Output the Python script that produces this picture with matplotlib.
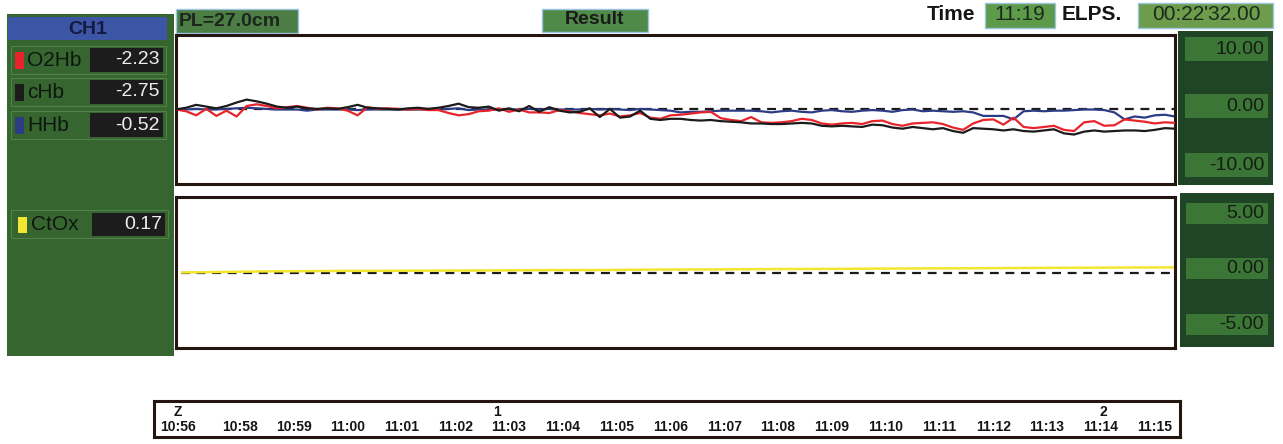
import numpy as np
import matplotlib
matplotlib.use("Agg")
import matplotlib.pyplot as plt
from matplotlib.patches import Rectangle

# ---------------- data ----------------
o2hb = [0, -0.3, -1.0, 0.1, -1.1, -0.2, -1.2, 0.6, 0.9, 0.6,
        0.2, 0.4, 0.6, 0.3, 0.0, 0.3, 0.2, -0.2, -1.0, 0.4,
        0.1, 0.2, 0.1, 0.0, 0.1, -0.1, -0.1, -0.6, -1.0, -0.8,
        -0.3, -0.2, 0.2, -0.4, 0.0, -0.5, -0.5, -0.6, -0.1, -0.3,
        -0.6, -0.8, -1.0, -0.7, -1.2, -1.0, -0.6, -1.4, -1.6, -1.0,
        -0.9, -0.7, -0.5, -0.4, -1.5, -1.8, -2.0, -1.3, -2.2, -2.3,
        -2.2, -2.0, -1.6, -1.8, -2.4, -2.6, -2.4, -2.3, -2.5, -2.0,
        -1.9, -2.5, -2.8, -2.4, -2.3, -2.2, -2.5, -3.1, -3.5, -2.4,
        -1.8, -1.7, -2.6, -1.4, -3.0, -3.2, -3.0, -2.8, -3.5, -3.7,
        -2.2, -2.0, -2.8, -2.7, -1.7, -1.9, -2.1, -2.4, -2.2, -2.3]
chb = [0, 0.3, 0.8, 0.5, 0.2, 0.6, 1.2, 1.7, 1.4, 1.0,
       0.5, 0.3, 0.5, 0.2, 0.1, 0.2, 0.1, 0.4, 0.8, 0.3,
       0.2, 0.1, 0.0, 0.2, 0.3, 0.1, 0.3, 0.6, 1.0, 0.4,
       0.3, 0.5, -0.2, 0.2, -0.3, 0.6, -0.4, 0.4, -0.2, -0.5,
       -0.4, 0.2, -1.3, 0.1, -1.4, -1.2, -0.2, -1.6, -1.8, -1.6,
       -1.6, -1.8, -1.9, -1.8, -2.0, -2.1, -2.2, -2.4, -2.4, -2.5,
       -2.5, -2.4, -2.3, -2.4, -2.8, -2.9, -2.8, -2.9, -3.0, -2.6,
       -2.7, -3.1, -3.3, -3.0, -3.2, -3.4, -3.2, -3.7, -4.0, -3.2,
       -3.3, -3.4, -3.6, -3.4, -3.7, -3.8, -3.6, -3.4, -4.1, -4.3,
       -3.8, -3.6, -3.8, -3.7, -3.6, -3.6, -3.7, -3.5, -3.2, -3.3]
hhb = [0, 0, 0.1, 0, 0, 0.1, 0.2, 0.3, 0.2, 0.1,
       0, 0, 0, -0.2, 0, 0, 0, 0, -0.1, 0,
       0, 0, 0, 0, 0, 0, 0, 0.1, 0.2, -0.1,
       0, 0, 0, 0, 0, 0.1, 0, 0.1, 0, 0,
       0.0, 0.1, 0.0, 0.1, 0.0, -0.1, 0.1, 0.0, -0.1, -0.2,
       -0.5, -0.4, -0.4, -0.3, -0.2, -0.2, -0.2, -0.2, -0.3, -0.5,
       -0.3, -0.2, -0.4, -0.5, -0.2, -0.1, -0.3, -0.4, -0.2, -0.1,
       -0.2, -0.4, -0.1, 0.0, -0.3, -0.2, -0.3, -0.4, -0.3, -0.5,
       -1.1, -1.1, -1.1, -1.7, -0.3, -0.2, -0.3, -0.2, -0.2, -0.1,
       0.0, 0.0, -0.1, -0.5, -1.7, -1.2, -1.4, -1.0, -0.9, -1.2]
ctox = [0.0, 0.05, 0.1, 0.12, 0.15, 0.15, 0.17, 0.18, 0.2, 0.22,
        0.22, 0.25, 0.27, 0.28, 0.3, 0.32, 0.33, 0.35, 0.37, 0.38,
        0.4, 0.42, 0.43, 0.45, 0.46]

readout_names = ["O2Hb", "cHb", "HHb"]
readout_values = ["-2.23", "-2.75", "-0.52"]
readout_colors = ["#e8232b", "#1b1b1b", "#2c3c84"]
ctox_name, ctox_value = "CtOx", "0.17"

top_scale = ["10.00", "0.00", "-10.00"]
bottom_scale = ["5.00", "0.00", "-5.00"]

time_labels = ["10:56", "10:58", "10:59", "11:00", "11:01", "11:02", "11:03",
               "11:04", "11:05", "11:06", "11:07", "11:08", "11:09", "11:10",
               "11:11", "11:12", "11:13", "11:14", "11:15"]
time_pos = [0.85, 2, 3, 4, 5, 6, 7, 8, 9, 10, 11, 12, 13, 14, 15, 16, 17, 18, 19]
event_labels = ["Z", "1", "2"]
event_pos = [0.85, 6.77, 18.05]

# ---------------- figure ----------------
W, H = 1283, 444
fig = plt.figure(figsize=(W / 100, H / 100), dpi=100)
fig.patch.set_facecolor("white")
FONT = ["Liberation Sans", "DejaVu Sans"]
NARROW = ["Liberation Sans Narrow", "Liberation Sans", "DejaVu Sans"]


def rect(x0, y0, x1, y1):
    return [x0 / W, 1 - y1 / H, (x1 - x0) / W, (y1 - y0) / H]


bg = fig.add_axes([0, 0, 1, 1], zorder=0)
bg.set_xlim(0, W)
bg.set_ylim(H, 0)
bg.axis("off")


def box(x0, y0, x1, y1, fc, ec="none", lw=0):
    bg.add_patch(Rectangle((x0, y0), x1 - x0, y1 - y0, facecolor=fc,
                           edgecolor=ec, linewidth=lw))


def txt(x, y, s, size=14, ha="left", color="#151d15", weight="normal", family=FONT):
    bg.text(x, y, s, fontsize=size, ha=ha, va="center", color=color,
            fontweight=weight, family=family)


# left panel
box(7, 14, 174, 356, "#36652f")
box(8, 17, 167, 40, "#3d55a5")
txt(88, 29, "CH1", 14, "center", "#141a40", "bold")
row_y = [60, 92, 125]
for name, val, col, yc in zip(readout_names, readout_values, readout_colors, row_y):
    box(11, yc - 14, 166, yc + 14, "none", "#4e8448", 0.8)
    box(15, yc - 8, 24, yc + 9, col)
    txt(27, yc, name, 15, color="#0e170f")
    box(90, yc - 12, 163, yc + 12, "#1c1c1c")
    txt(160, yc, val, 14, "right", "#eeeeee")
box(11, 210, 168, 238, "none", "#4e8448", 0.8)
box(18, 217, 27, 233, "#f2e630")
txt(31, 224, ctox_name, 15, color="#0e170f")
box(92, 213, 165, 236, "#1c1c1c")
txt(162, 224, ctox_value, 14, "right", "#eeeeee")

# header boxes
box(176, 9, 298, 33, "#4c7d44", "#9cc4e4", 1)
txt(179, 21, "PL=27.0cm", 14, color="#1c261c", weight="bold")
box(542, 9, 648, 32, "#4f8a48", "#9cc4e4", 1)
txt(595, 20, "Result", 14, "center", "#1a1a1a", "bold")
txt(927, 15, "Time", 15, color="#151515", weight="bold")
box(985, 3, 1055, 28, "#5d9a4a", "#9cc4e4", 1)
txt(1020, 15, "11:19", 15, "center", "#1c2a1c")
txt(1062, 15, "ELPS.", 15, color="#151515", weight="bold")
box(1138, 3, 1273, 28, "#6c9c4c", "#9cc4e4", 1)
txt(1206, 15, "00:22'32.00", 15, "center", "#1c2a1c")

# right scale panels
box(1178, 31, 1273, 185, "#1f4526")
for lab, yc in zip(top_scale, [49, 106, 165]):
    box(1185, yc - 12, 1268, yc + 12, "#3b7636")
    txt(1264, yc, lab, 14, "right", "#141c14")
box(1180, 193, 1274, 347, "#1f4526")
for lab, yc in zip(bottom_scale, [213, 268, 324]):
    box(1186, yc - 10, 1268, yc + 11, "#3b7636")
    txt(1264, yc, lab, 14, "right", "#141c14")

# ---------------- top plot ----------------
frame_col = "#24160e"
ax1 = fig.add_axes(rect(176, 35, 1175, 184), zorder=2)
x = np.arange(len(o2hb))
ax1.axhline(0, color="#1a1a1a", lw=1.6, ls=(0, (4, 3)), zorder=1)
ax1.plot(x, hhb, color="#2c3c84", lw=1.6, zorder=2)
ax1.plot(x, o2hb, color="#e8232b", lw=1.6, zorder=3)
ax1.plot(x, chb, color="#1b1b1b", lw=1.6, zorder=4)
ax1.set_xlim(0, len(x) - 1)
ax1.set_ylim(-12.8, 12.8)
ax1.set_xticks([])
ax1.set_yticks([])
for s in ax1.spines.values():
    s.set_color(frame_col)
    s.set_linewidth(2.2)

# ---------------- bottom plot ----------------
ax2 = fig.add_axes(rect(176, 197, 1175, 348), zorder=2)
xc = np.arange(len(ctox))
ax2.axhline(0, xmin=0.005, color="#1a1a1a", lw=1.6, ls=(0, (4, 3)), zorder=1)
ax2.plot(xc, ctox, color="#f2e630", lw=1.8, zorder=2)
ax2.set_xlim(-0.15, len(ctox) - 1)
ax2.set_ylim(-6.8, 6.8)
ax2.set_xticks([])
ax2.set_yticks([])
for s in ax2.spines.values():
    s.set_color(frame_col)
    s.set_linewidth(2.2)

# ---------------- time line ----------------
ax3 = fig.add_axes(rect(154, 401, 1180, 437), zorder=2)
ax3.set_xlim(0.40, 19.47)
ax3.set_ylim(0, 1)
ax3.set_xticks([])
ax3.set_yticks([])
for s in ax3.spines.values():
    s.set_color(frame_col)
    s.set_linewidth(2.2)
for p, lab in zip(time_pos, time_labels):
    ax3.text(p, 0.28, lab, ha="center", va="center", fontsize=10,
             fontweight="bold", family=NARROW, color="#151515")
for p, lab in zip(event_pos, event_labels):
    ax3.text(p, 0.7, lab, ha="center", va="center", fontsize=10,
             fontweight="bold", family=NARROW, color="#151515")

fig.savefig("out.png", dpi=100, facecolor="white")
